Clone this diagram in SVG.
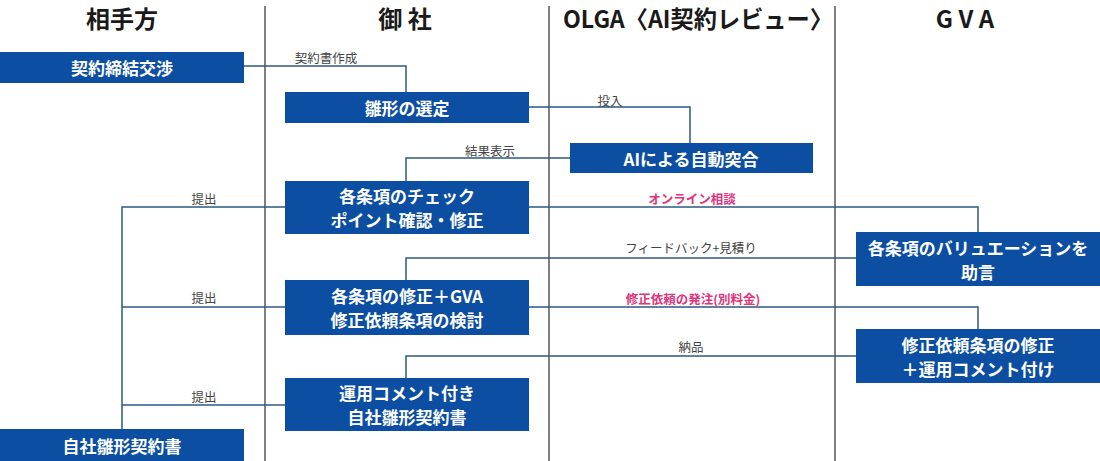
<svg xmlns="http://www.w3.org/2000/svg" width="1100" height="461" viewBox="0 0 1100 461">
<style>
.hdr{font-family:"Noto Sans CJK JP","Noto Sans",sans-serif;font-size:24px;font-weight:bold;fill:#1a1a1a;text-anchor:middle}
.box{fill:#0b4ea2}
.bt{font-family:"Noto Sans CJK JP","Noto Sans",sans-serif;font-size:17px;font-weight:bold;fill:#fff;text-anchor:middle;dominant-baseline:central}
.lbl{font-family:"Noto Sans CJK JP","Noto Sans",sans-serif;font-size:12.5px;fill:#444;text-anchor:middle;dominant-baseline:central}
.pink{fill:#e0347c;font-weight:bold}
.div{stroke:#555;stroke-width:1.5;fill:none}
.con{stroke:#2b5a83;stroke-width:1.5;fill:none}
</style>
<rect width="1100" height="461" fill="#fff"/>
<g id="dividers">
<line class="div" x1="265" y1="6" x2="265" y2="461"/>
<line class="div" x1="549" y1="6" x2="549" y2="461"/>
<line class="div" x1="835" y1="6" x2="835" y2="461"/>
</g>
<g id="headers">
<text class="hdr" x="122" y="28">相手方</text>
<text class="hdr" x="405" y="28">御 社</text>
<text class="hdr" x="698" y="28" textLength="270" lengthAdjust="spacingAndGlyphs">OLGA〈AI契約レビュー〉</text>
<text class="hdr" x="965" y="28">G V A</text>
</g>
<g id="connectors">
<polyline class="con" points="244,66 406,66 406,92"/>
<polyline class="con" points="529,107 690,107 690,143"/>
<polyline class="con" points="570,158 406,158 406,181"/>
<polyline class="con" points="122,429 122,207 285,207"/>
<line class="con" x1="122" y1="307" x2="285" y2="307"/>
<line class="con" x1="122" y1="405" x2="285" y2="405"/>
<polyline class="con" points="529,207 978,207 978,232"/>
<polyline class="con" points="856,258 406,258 406,280"/>
<polyline class="con" points="529,307 978,307 978,329"/>
<polyline class="con" points="856,356 406,356 406,378"/>
</g>
<g id="labels">
<text class="lbl" x="326" y="57">契約書作成</text>
<text class="lbl" x="610" y="100">投入</text>
<text class="lbl" x="490" y="150">結果表示</text>
<text class="lbl" x="204" y="198">提出</text>
<text class="lbl" x="204" y="297">提出</text>
<text class="lbl" x="204" y="396">提出</text>
<text class="lbl pink" x="692" y="198">オンライン相談</text>
<text class="lbl" x="691" y="247">フィードバック+見積り</text>
<text class="lbl pink" x="693" y="298">修正依頼の発注(別料金)</text>
<text class="lbl" x="691" y="346">納品</text>
</g>
<g id="n-kosho">
<rect class="box" x="0" y="52" width="244" height="31"/>
<text class="bt" x="122" y="67.5">契約締結交渉</text>
</g>
<g id="n-hinagata">
<rect class="box" x="285" y="92" width="244" height="31"/>
<text class="bt" x="407" y="107.5">雛形の選定</text>
</g>
<g id="n-ai">
<rect class="box" x="570" y="143" width="243" height="30"/>
<text class="bt" x="691" y="158">AIによる自動突合</text>
</g>
<g id="n-check">
<rect class="box" x="285" y="181" width="244" height="53"/>
<text class="bt" x="407" y="195.5">各条項のチェック</text>
<text class="bt" x="407" y="219">ポイント確認・修正</text>
</g>
<g id="n-valuation">
<rect class="box" x="856" y="232" width="244" height="54"/>
<text class="bt" x="978" y="247">各条項のバリュエーションを</text>
<text class="bt" x="978" y="271">助言</text>
</g>
<g id="n-shusei">
<rect class="box" x="285" y="280" width="244" height="55"/>
<text class="bt" x="407" y="295.5">各条項の修正＋GVA</text>
<text class="bt" x="407" y="319.5">修正依頼条項の検討</text>
</g>
<g id="n-gva-shusei">
<rect class="box" x="856" y="329" width="244" height="54"/>
<text class="bt" x="978" y="344">修正依頼条項の修正</text>
<text class="bt" x="978" y="368">＋運用コメント付け</text>
</g>
<g id="n-unyo">
<rect class="box" x="285" y="378" width="244" height="53"/>
<text class="bt" x="407" y="392.5">運用コメント付き</text>
<text class="bt" x="407" y="416">自社雛形契約書</text>
</g>
<g id="n-jisha">
<rect class="box" x="0" y="429" width="244" height="32"/>
<text class="bt" x="122" y="445">自社雛形契約書</text>
</g>
</svg>
